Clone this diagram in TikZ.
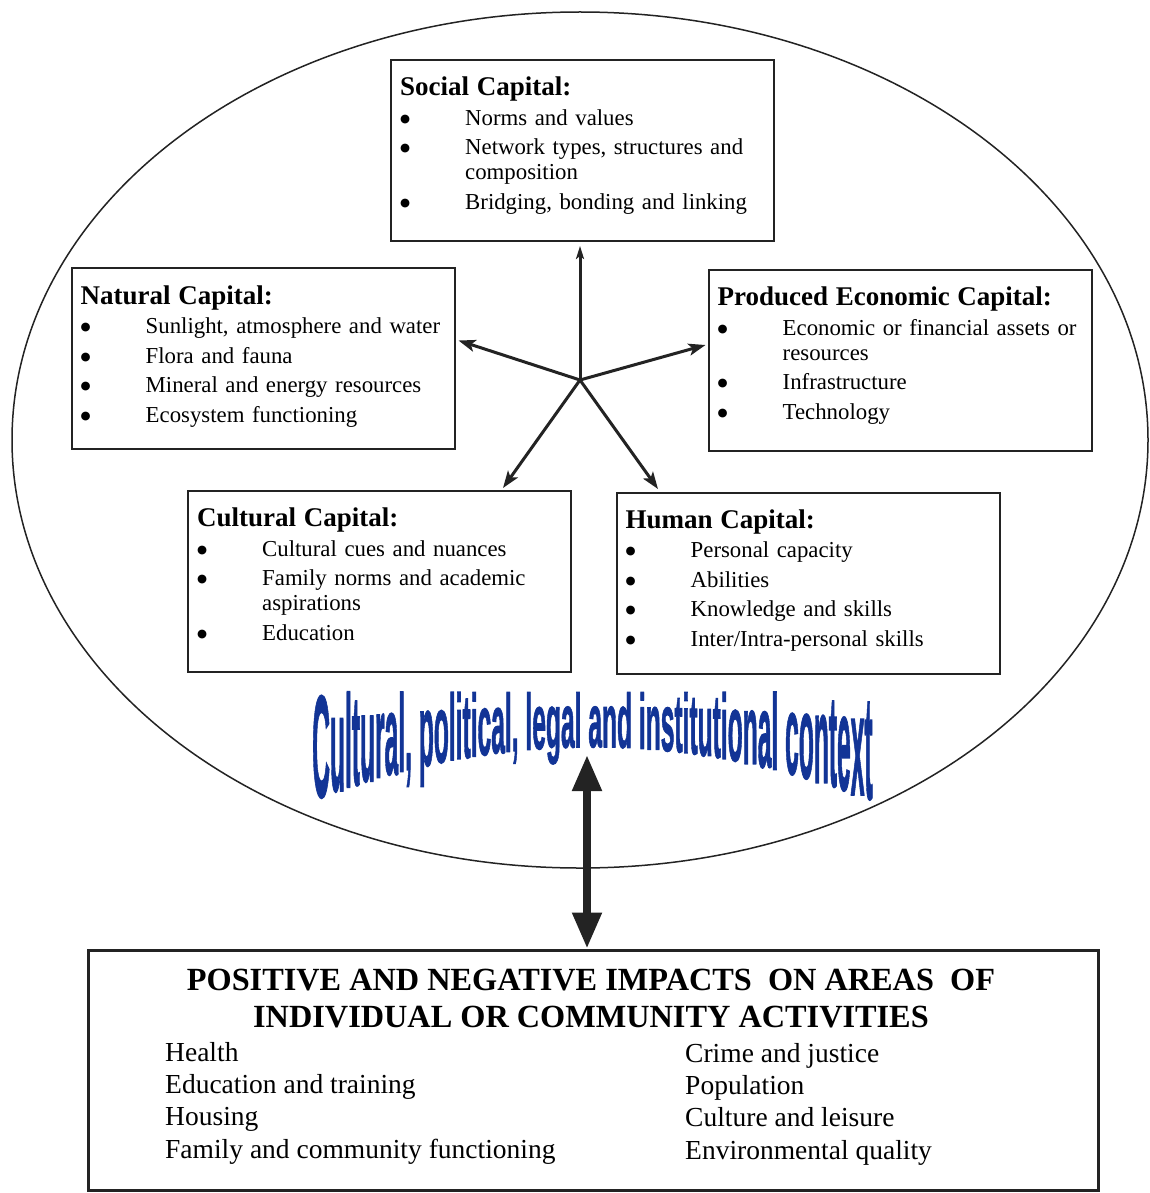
\documentclass[tikz,border=0pt]{standalone}
\usepackage{fontspec}
\setmainfont{Liberation Serif}
\newfontfamily\archfamily{Liberation Sans}[BoldFeatures={FakeBold=1.6}]
\newfontfamily\bulfont{DejaVu Sans}
\usetikzlibrary{arrows.meta,shapes.geometric,calc}
\definecolor{inkc}{RGB}{35,35,35}
\definecolor{archblue}{RGB}{18,52,150}
\newlength\archw
\newcommand\archfont{\archfamily\bfseries\fontsize{24.6}{24.6}\selectfont}
\def\archspace{_}
\def\archspw{6.84}
\def\archcap{17.61}
\newcommand\captitle[1]{{\fontsize{27}{29.5}\selectfont\bfseries #1}}
\newcommand\capitem{\makebox[65pt][l]{\raisebox{3pt}{\bulfont\fontsize{11.5}{11.5}\selectfont ●}}}
\newcommand\capind{\hspace*{65pt}}
\tikzset{
  capbox/.style={draw=inkc, line width=2pt, fill=white, inner sep=0, minimum width=383pt, minimum height=181pt},
  captext/.style={inner sep=0, anchor=north west, text width=375pt, align=left, font=\fontsize{22.8}{29.5}\selectfont},
  spoke/.style={draw=inkc, line width=3pt, -{Stealth[length=17pt,width=12pt,inset=4pt]}},
  upspoke/.style={draw=inkc, line width=3pt, -{Stealth[length=13pt,width=8pt,inset=3pt]}},
  bigarrow/.style={draw=inkc, line width=8pt, {Triangle[length=36pt,width=28pt]}-{Triangle[length=36pt,width=28pt]}},
  archletter/.style={inner sep=0, text=archblue, anchor=base west},
  ring/.style={draw=inkc, line width=1.5pt, ellipse, inner sep=0, minimum width=1136pt, minimum height=856pt}
}
\begin{document}
\begin{tikzpicture}[x=1pt,y=-1pt]
\useasboundingbox (0,0) rectangle (1150,1193);
\fill[white] (0,0) rectangle (1150,1193);

% context ellipse
\node[ring] (ctxring) at (580,440) {};

% capital boxes
\node[capbox] (social) at (582.5,150.5) {};
\node[capbox] (natural) at (263,358.5) {};
\node[capbox] (produced) at (900,360) {};
\node[capbox] (cultural) at (379.5,581.5) {};
\node[capbox] (human) at (808,583) {};

\node[captext] (social-t) at ($(social.north west)+(10,18)$) {%
\captitle{Social Capital:}\\
\capitem Norms and values\\
\capitem Network types, structures and\\[-4.5pt]
\capind composition\\
\capitem Bridging, bonding and linking};

\node[captext] (natural-t) at ($(natural.north west)+(10,18.5)$) {%
\captitle{Natural Capital:}\\
\capitem Sunlight, atmosphere and water\\
\capitem Flora and fauna\\
\capitem Mineral and energy resources\\
\capitem Ecosystem functioning};

\node[captext] (produced-t) at ($(produced.north west)+(10,18.5)$) {%
\captitle{Produced Economic Capital:}\\
\capitem Economic or financial assets or\\[-4.5pt]
\capind resources\\
\capitem Infrastructure\\
\capitem Technology};

\node[captext] (cultural-t) at ($(cultural.north west)+(10,18)$) {%
\captitle{Cultural Capital:}\\
\capitem Cultural cues and nuances\\
\capitem Family norms and academic\\[-4.5pt]
\capind aspirations\\
\capitem Education};

\node[captext] (human-t) at ($(human.north west)+(10,18)$) {%
\captitle{Human Capital:}\\
\capitem Personal capacity\\
\capitem Abilities\\
\capitem Knowledge and skills\\
\capitem Inter/Intra-personal skills};

% spokes
\coordinate (hub) at (580,380);
\draw[upspoke] (hub) -- ($(social.south)+(-2.5,4)$);
\draw[spoke] (hub) -- ($(natural.east)+(3,-18)$);
\draw[spoke] (hub) -- ($(produced.west)+(-2,-15)$);
\draw[spoke] (hub) -- ($(cultural.north)+(123.5,-2)$);
\draw[spoke] (hub) -- ($(human.north)+(-150,-2.5)$);

% arched context text
\xdef\archx{312}
\foreach \ch [count=\k] in {C,u,l,t,u,r,a,l,{,},_,p,o,l,i,t,i,c,a,l,{,},_,l,e,g,a,l,_,a,n,d,_,i,n,s,t,i,t,u,t,i,o,n,a,l,_,c,o,n,t,e,x,t} {
  \edef\archc{\ch}%
  \ifx\archc\archspace
    \pgfmathsetmacro\nx{\archx+\archspw}%
    \xdef\archx{\nx}%
  \else
    \pgfinterruptpicture\settowidth{\archw}{\archfont \ch}\global\archw=\archw\endpgfinterruptpicture
    \pgfmathsetmacro\cx{\archx+0.5*\archw}%
    \pgfmathsetmacro\hh{54+53*((\cx-592)/280)^2}%
    \pgfmathsetmacro\ys{\hh/\archcap}%
    \pgfmathsetmacro\yb{693+\hh}%
    \node[archletter] (arch\k) at (\archx,\yb) {\scalebox{1}[\ys]{\archfont \ch}};
    \pgfmathsetmacro\nx{\archx+\archw}%
    \xdef\archx{\nx}%
  \fi
}

% impacts box
\node[draw=inkc, line width=3pt, fill=white, minimum width=1010pt, minimum height=240pt, inner sep=0] (impacts) at (593,1070) {};
\node[inner sep=0, anchor=north, align=center, font=\fontsize{32.3}{37}\selectfont\bfseries] (imp-head) at ($(impacts.north)+(-2,20)$)
  {POSITIVE AND NEGATIVE IMPACTS\ \ ON AREAS\ \ OF\\INDIVIDUAL OR COMMUNITY ACTIVITIES};
\node[inner sep=0, anchor=north west, align=left, font=\fontsize{27.5}{32.3}\selectfont] (imp-left) at ($(impacts.north west)+(78.5,93.5)$)
  {Health\\Education and training\\Housing\\Family and community functioning};
\node[inner sep=0, anchor=north west, align=left, font=\fontsize{27.5}{32.3}\selectfont] (imp-right) at ($(impacts.north west)+(598.5,94.5)$)
  {Crime and justice\\Population\\Culture and leisure\\Environmental quality};

% big double arrow
\coordinate (ctxpt) at (587,755);
\draw[bigarrow] (ctxpt) -- ($(impacts.north)+(-6,0)$);
\end{tikzpicture}
\end{document}
